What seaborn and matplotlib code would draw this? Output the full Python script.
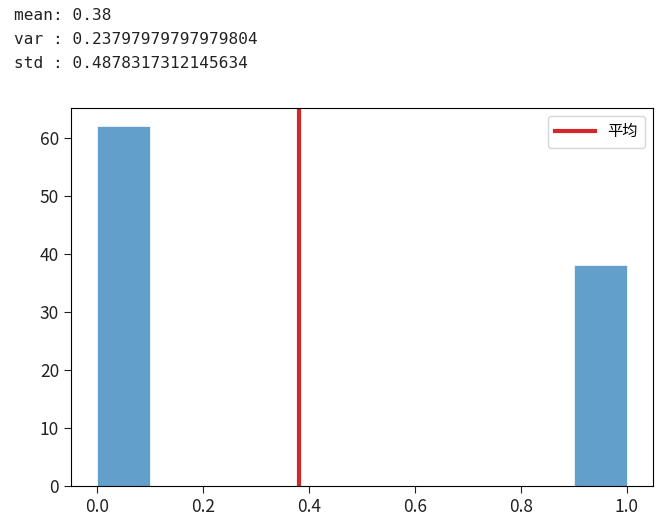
import numpy as np
import pandas as pd
import matplotlib
matplotlib.use("Agg")
import matplotlib.pyplot as plt
import seaborn as sns

# observed values and how often each one occurs
values = [0, 1]
counts = [62, 38]
mean_label = "平均"
# stats as they were printed in the notebook
stat_lines = ["mean: 0.38",
              "var : 0.23797979797979804",
              "std : 0.4878317312145634"]

df = pd.DataFrame({"value": values, "count": counts})
mean = np.repeat(values, counts).mean()

plt.rcParams['font.family'] = ['Noto Sans CJK SC', 'DejaVu Sans']

fig = plt.figure(figsize=(6.69, 5.30), dpi=100)

for i, line in enumerate(stat_lines):
    fig.text(14 / 669, 1 - (15 + 24 * i) / 530, line, family='DejaVu Sans Mono',
             fontsize=11.6, va='center', ha='left', color='#222222')

ax = fig.add_axes([71 / 669, 44 / 530, 582 / 669, 378 / 530])
sns.histplot(data=df, x="value", weights="count", bins=10, binrange=(0, 1),
             color='tab:blue', alpha=0.7, edgecolor='white', linewidth=0.5, ax=ax)
ax.axvline(mean, color='tab:red', linewidth=3, label=mean_label)
ax.set_xlabel("")
ax.set_ylabel("")
ax.tick_params(labelsize=12.5, length=5, colors='#222222')
ax.legend(loc='upper right', fontsize=11, handlelength=2.6, borderpad=0.5)

fig.savefig("out.png", dpi=100)
